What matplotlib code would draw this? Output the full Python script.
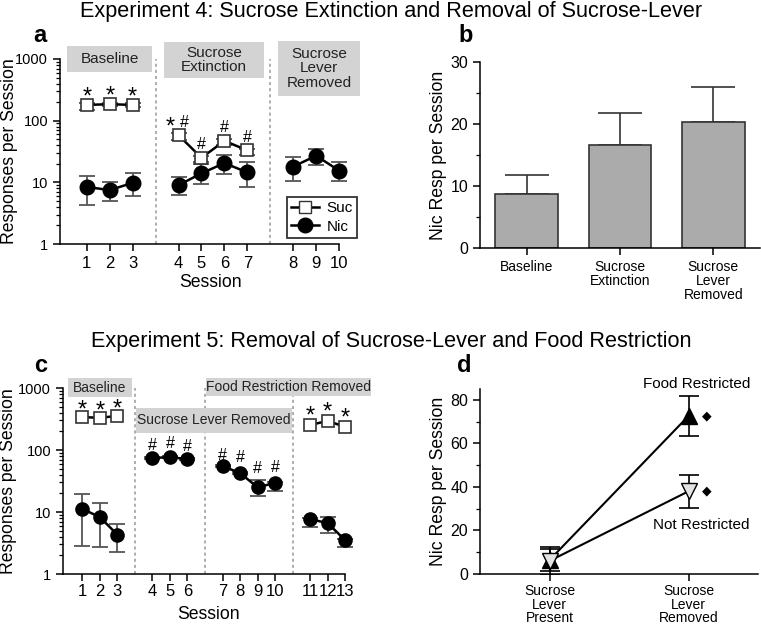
import numpy as np
import matplotlib
matplotlib.use('Agg')
import matplotlib.pyplot as plt
from matplotlib.patches import Rectangle
from matplotlib.lines import Line2D

plt.rcParams['font.family'] = ['Liberation Sans', 'DejaVu Sans']

W, H = 761, 626

# ---- Experiment 4, panel a ----
a_sessions = [1, 2, 3, 4, 5, 6, 7, 8, 9, 10]
a_phase = [0, 0, 0, 1, 1, 1, 1, 2, 2, 2]
a_suc = [180, 185, 180, 58, 25, 47, 33]
a_suc_lo = [150, 170, 168, 48, 20, 40, 28]
a_suc_hi = [195, 195, 192, 62, 27, 50, 35]
a_nic = [8.4, 7.5, 9.8, 9.0, 14.0, 20.5, 14.5, 18.0, 27.0, 15.5]
a_nic_lo = [4.3, 5.0, 6.0, 6.2, 9.5, 13.5, 8.3, 10.5, 19.0, 10.5]
a_nic_hi = [12.5, 10.0, 14.0, 12.0, 21.0, 28.0, 21.0, 26.0, 35.0, 21.0]

# ---- Experiment 4, panel b ----
b_labels = ['Baseline', 'Sucrose\nExtinction', 'Sucrose\nLever\nRemoved']
b_means = [8.7, 16.6, 20.3]
b_sem = [3.1, 5.2, 5.7]

# ---- Experiment 5, panel c ----
c_sessions = [1, 2, 3, 4, 5, 6, 7, 8, 9, 10, 11, 12, 13]
c_phase = [0, 0, 0, 1, 1, 1, 2, 2, 2, 2, 3, 3, 3]
c_suc_sessions = [1, 2, 3, 11, 12, 13]
c_suc = [340, 330, 355, 253, 295, 235]
c_nic = [11.2, 8.3, 4.3, 74, 77, 71, 55, 42.5, 25, 29.5, 7.7, 6.6, 3.5]
c_nic_lo = [2.8, 2.7, 2.3, 72, 75, 69, 53, 41, 18, 22, 5.8, 4.6, 2.7]
c_nic_hi = [19.5, 13.8, 6.3, 76, 79, 73, 57, 44, 33, 31, 8.0, 8.3, 3.7]

# ---- Experiment 5, panel d ----
d_labels = ['Sucrose\nLever\nPresent', 'Sucrose\nLever\nRemoved']
d_fr = [6.4, 72.6]
d_fr_err = [5.0, 9.0]
d_nr = [6.0, 38.0]
d_nr_err = [6.5, 7.5]

fig = plt.figure(figsize=(W / 100, H / 100), dpi=100)


def px_rect(x0, y0, x1, y1):
    return [x0 / W, 1 - y1 / H, (x1 - x0) / W, (y1 - y0) / H]


def phase_box(x0, y0, x1, y1, text, size):
    fig.patches.append(Rectangle((x0 / W, 1 - y1 / H), (x1 - x0) / W, (y1 - y0) / H,
                                 transform=fig.transFigure, facecolor='#d3d3d3',
                                 edgecolor='none', zorder=0))
    fig.text((x0 + x1) / 2 / W, 1 - (y0 + y1) / 2 / H, text, ha='center', va='center',
             fontsize=size, linespacing=1.05, color='#222222')


def style_axes(ax):
    for s in ['top', 'right']:
        ax.spines[s].set_visible(False)
    for s in ['left', 'bottom']:
        ax.spines[s].set_linewidth(1.1)
    ax.tick_params(which='major', length=5, width=1.1, direction='out')
    ax.tick_params(which='minor', length=3, width=0.9, direction='out')


def ylabel_at(ax, text, x_px, ax_x0, ax_w):
    ax.set_ylabel(text, fontsize=12.7)
    ax.yaxis.set_label_coords((x_px - ax_x0) / ax_w, 0.5)


def mark(ax, txt, x, y, dy, dx=0, size=17):
    ax.annotate(txt, (x, y), xytext=(dx, dy), textcoords='offset points',
                ha='center', va='center', fontsize=size)


errkw = dict(ecolor='#555555', elinewidth=1.3, capsize=6, capthick=1.3)

# ===== Panel a =====
ax = fig.add_axes(px_rect(60, 59, 362, 244))
a_pos = np.array(a_sessions) + np.array(a_phase)
for ph in range(3):
    idx = [i for i, p in enumerate(a_phase) if p == ph]
    xs = a_pos[idx]
    ys = np.array(a_nic)[idx]
    lo = ys - np.array(a_nic_lo)[idx]
    hi = np.array(a_nic_hi)[idx] - ys
    ax.errorbar(xs, ys, yerr=[lo, hi], fmt='none', zorder=2, **errkw)
    ax.plot(xs, ys, '-o', color='black', lw=1.8, ms=10.5, zorder=3)
    sidx = [i for i in idx if i < len(a_suc)]
    if sidx:
        xs = a_pos[sidx]
        ys = np.array(a_suc)[sidx]
        lo = ys - np.array(a_suc_lo)[sidx]
        hi = np.array(a_suc_hi)[sidx] - ys
        ax.errorbar(xs, ys, yerr=[lo, hi], fmt='none', zorder=2, **errkw)
        ax.plot(xs, ys, '-s', color='black', mfc='white', mec='#333333', mew=1.2,
                lw=1.8, ms=8.5, zorder=4)
for xd in [4, 9]:
    ax.axvline(xd, color='#999999', ls=(0, (2, 2)), lw=1.1, zorder=0)
ax.set_yscale('log')
ax.set_ylim(1, 1000)
ax.set_xlim(-0.17, 13.0)
ax.spines['bottom'].set_bounds(-0.17, 12)
ax.set_xticks(a_pos)
ax.set_xticklabels([str(s) for s in a_sessions])
ax.set_yticks([1, 10, 100, 1000])
ax.set_yticklabels(['1', '10', '100', '1000'])
ax.tick_params(axis='x', labelsize=12)
ax.tick_params(axis='y', labelsize=10.5)
style_axes(ax)
ax.set_xlabel('Session', fontsize=12.7, labelpad=2)
ylabel_at(ax, 'Responses per Session', 18, 60, 302)
for i in range(3):
    mark(ax, '*', a_pos[i], a_suc[i], 5.5)
mark(ax, '*', a_pos[3], a_suc[3], 5.5, -6)
mark(ax, '#', a_pos[3], a_suc[3], 9.4, 4, 11.5)
for i in [4, 5, 6]:
    mark(ax, '#', a_pos[i], a_suc[i], 9.4, 0, 11.5)
leg = ax.legend(handles=[
    Line2D([], [], color='black', marker='s', mfc='white', mec='#333333', ms=8.5, lw=1.8),
    Line2D([], [], color='black', marker='o', ms=10.5, lw=1.8)],
    labels=['Suc', 'Nic'], loc='center', bbox_to_anchor=(322 / W, 1 - 217.5 / H),
    bbox_transform=fig.transFigure, fancybox=False, edgecolor='black', fontsize=11,
    handlelength=1.8, borderpad=0.3, labelspacing=0.3, handletextpad=0.5, borderaxespad=0)
leg.get_frame().set_linewidth(1.3)

phase_box(67, 46, 152, 72, 'Baseline', 11)
phase_box(164, 42, 264, 78, 'Sucrose\nExtinction', 11)
phase_box(278, 41, 360, 96, 'Sucrose\nLever\nRemoved', 11)

# ===== Panel b =====
ax = fig.add_axes(px_rect(480, 62, 760, 248))
xb = np.arange(len(b_labels))
ax.bar(xb, b_means, width=0.67, color='#ababab', edgecolor='#333333', lw=1.2, zorder=2)
ax.errorbar(xb, b_means, yerr=[np.zeros(3), b_sem], fmt='none', ecolor='#333333',
            elinewidth=1.2, capsize=16, capthick=1.2, zorder=1)
ax.set_xlim(-0.5, 2.5)
ax.set_ylim(0, 30)
ax.set_yticks([0, 10, 20, 30])
ax.set_yticks([5, 15, 25], minor=True)
ax.set_xticks(xb)
ax.set_xticklabels(b_labels, fontsize=10, linespacing=1.0)
ax.tick_params(axis='y', labelsize=11.5)
style_axes(ax)
ylabel_at(ax, 'Nic Resp per Session', 447, 480, 280)

# ===== Panel c =====
ax = fig.add_axes(px_rect(63, 388, 354, 574))
c_pos = np.array(c_sessions) + np.array(c_phase)
c_suc_pos = [c_pos[c_sessions.index(s)] for s in c_suc_sessions]
for ph in range(4):
    idx = [i for i, p in enumerate(c_phase) if p == ph]
    xs = c_pos[idx]
    ys = np.array(c_nic)[idx]
    lo = ys - np.array(c_nic_lo)[idx]
    hi = np.array(c_nic_hi)[idx] - ys
    ax.errorbar(xs, ys, yerr=[lo, hi], fmt='none', zorder=2, **errkw)
    ax.plot(xs, ys, '-o', color='black', lw=1.8, ms=9.5, zorder=3)
for grp in [slice(0, 3), slice(3, 6)]:
    ax.plot(c_suc_pos[grp], c_suc[grp], '-s', color='black', mfc='white', mec='#333333',
            mew=1.2, lw=1.8, ms=8.5, zorder=4)
for xd in [4, 8, 13]:
    ax.axvline(xd, color='#999999', ls=(0, (2, 2)), lw=1.1, zorder=0)
ax.set_yscale('log')
ax.set_ylim(1, 1000)
ax.set_xlim(-0.1, 16.5)
ax.spines['bottom'].set_bounds(-0.1, 16)
ax.set_xticks(c_pos)
ax.set_xticklabels([str(s) for s in c_sessions])
ax.set_yticks([1, 10, 100, 1000])
ax.set_yticklabels(['1', '10', '100', '1000'])
ax.tick_params(axis='x', labelsize=12, pad=2)
ax.tick_params(axis='y', labelsize=10.5)
style_axes(ax)
ax.set_xlabel('Session', fontsize=12.7, labelpad=5)
ylabel_at(ax, 'Responses per Session', 17, 63, 291)
for k in range(3):
    mark(ax, '*', c_suc_pos[k], c_suc[k], 4.8)
for k in range(3, 6):
    mark(ax, '*', c_suc_pos[k], c_suc[k], 6.2)
hash_dy = [9.4, 9.4, 9.4, 7.9, 11.5, 13.7, 10.8]
for k, i in enumerate(range(3, 10)):
    mark(ax, '#', c_pos[i], c_nic[i], hash_dy[k], 0, 11.5)
phase_box(68, 378, 132, 397, 'Baseline', 10)
phase_box(206, 378, 371, 396, 'Food Restriction Removed', 10)
phase_box(136, 408, 292, 433, 'Sucrose Lever Removed', 10)

# ===== Panel d =====
ax = fig.add_axes(px_rect(480, 389, 758, 574))
xd_ = np.array([1, 2])
ax.errorbar(xd_, d_fr, yerr=d_fr_err, fmt='none', ecolor='black', elinewidth=1.2,
            capsize=7, capthick=1.2, zorder=2)
ax.errorbar(xd_, d_nr, yerr=d_nr_err, fmt='none', ecolor='black', elinewidth=1.2,
            capsize=7, capthick=1.2, zorder=2)
ax.plot(xd_, d_fr, '-^', color='black', lw=1.5, ms=11, zorder=3)
ax.plot(xd_, d_nr, '-v', color='black', mfc='#e3e3e3', mec='black', mew=1.0,
        lw=1.5, ms=11, zorder=4)
for v in [d_fr[1], d_nr[1]]:
    ax.annotate('\u25c6', (2, v), xytext=(13, 0), textcoords='offset points',
                ha='center', va='center', fontsize=9, family=['DejaVu Sans'])
ax.annotate('Food Restricted', (2, d_fr[1]), xytext=(6, 23), textcoords='offset points',
            ha='center', va='center', fontsize=11)
ax.annotate('Not Restricted', (2, d_nr[1]), xytext=(9, -24), textcoords='offset points',
            ha='center', va='center', fontsize=11)
ax.set_xlim(0.5, 2.5)
ax.set_ylim(0, 85)
ax.set_yticks([0, 20, 40, 60, 80])
ax.set_yticks([10, 30, 50, 70], minor=True)
ax.set_xticks(xd_)
ax.set_xticklabels(d_labels, fontsize=10, linespacing=0.95)
ax.tick_params(axis='x', pad=2.5)
ax.tick_params(axis='y', labelsize=11.5)
style_axes(ax)
ylabel_at(ax, 'Nic Resp per Session', 447, 480, 278)

# titles and panel letters
fig.text(391.5 / W, 1 - 11 / H, 'Experiment 4: Sucrose Extinction and Removal of Sucrose-Lever',
         ha='center', va='center', fontsize=15.6)
fig.text(391.5 / W, 1 - 341 / H, 'Experiment 5: Removal of Sucrose-Lever and Food Restriction',
         ha='center', va='center', fontsize=15.6)
for lab, x, y in [('a', 40, 36), ('b', 466, 36), ('c', 41, 365), ('d', 464, 365)]:
    fig.text(x / W, 1 - y / H, lab, ha='center', va='center', fontsize=17, fontweight='bold')

fig.savefig('out.png', dpi=100)
